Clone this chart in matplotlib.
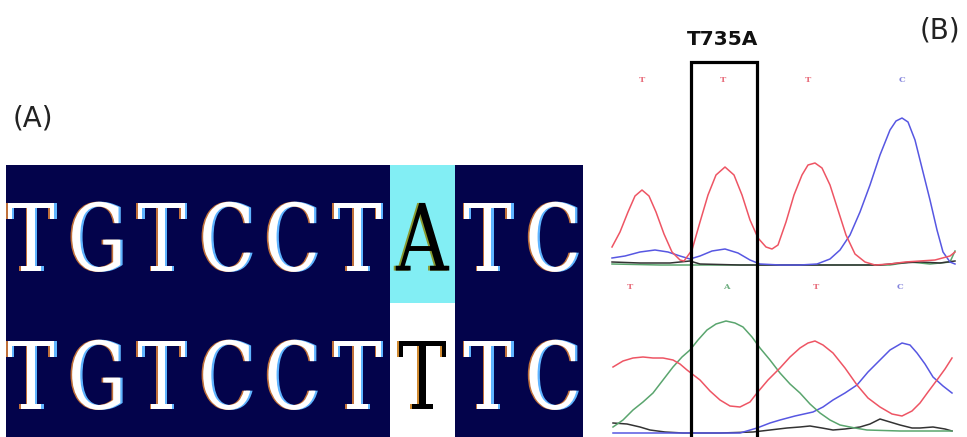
import matplotlib
matplotlib.use("Agg")
import matplotlib.pyplot as plt
from matplotlib.patches import Rectangle, PathPatch
from matplotlib.textpath import TextPath
from matplotlib.font_manager import FontProperties
from matplotlib.transforms import Affine2D

W, H = 967, 437

# (A) aligned sequences, reference on top, sample below
SEQ_TOP = "TGTCCTATC"
SEQ_BOTTOM = "TGTCCTTTC"
MUT_INDEX = 6

# (B) chromatogram: scan position vs. signal
MUT_SCAN = 124
MUT_LABEL = "T735A"

top_calls = ["T", "T", "T", "C"]
top_call_scan = [42, 123, 208, 302]
bot_calls = ["T", "A", "T", "C"]
bot_call_scan = [30, 126, 216, 300]

top_red_x = [12, 20, 28, 35, 42, 49, 56, 64, 72, 80, 84, 92, 100, 108, 116, 125, 134, 142, 150, 158,
             166, 172, 178, 186, 194, 202, 208, 215, 222, 230, 238, 246, 255, 265, 275, 290, 305, 320,
             335, 350, 355]
top_red_y = [18, 33, 53, 69, 75, 69, 53, 31, 13, 5, 4, 15, 43, 70, 90, 98, 90, 70, 45, 27,
             18, 16, 20, 43, 70, 90, 100, 102, 97, 80, 55, 30, 11, 3, 0, 1, 3, 4,
             5, 9, 13]

top_blue_x = [12, 25, 40, 55, 68, 80, 90, 100, 112, 125, 138, 150, 160, 180, 200, 217, 230, 240, 250,
              260, 270, 280, 290, 296, 302, 308, 315, 322, 330, 337, 343, 350, 355]
top_blue_y = [7, 9, 13, 15, 13, 9, 6, 9, 14, 16, 12, 5, 1, 0, 0, 1, 6, 15, 30,
              53, 80, 110, 135, 144, 147, 143, 125, 97, 65, 35, 13, 3, 1]

top_green_x = [12, 60, 120, 200, 290, 310, 330, 350, 355]
top_green_y = [1, 0, 0, 0, 0, 3, 1, 3, 14]

top_black_x = [12, 40, 70, 90, 100, 140, 200, 280, 300, 320, 340, 355]
top_black_y = [3, 2, 2, 4, 1, 0, 0, 0, 2, 3, 2, 4]

bot_red_x = [13, 23, 33, 43, 53, 63, 73, 80, 87, 100, 110, 120, 130, 140, 150, 157, 168, 180, 190,
             200, 208, 215, 223, 233, 245, 257, 268, 280, 292, 302, 312, 320, 328, 337, 345, 352]
bot_red_y = [66, 72, 75, 76, 75, 75, 73, 69, 63, 53, 42, 33, 27, 26, 31, 40, 53, 65, 76,
             85, 90, 92, 88, 80, 65, 48, 35, 26, 19, 17, 22, 30, 41, 53, 64, 75]

bot_green_x = [13, 23, 33, 43, 53, 63, 73, 82, 90, 98, 107, 116, 126, 135, 143, 152, 160, 170, 180,
               190, 200, 210, 220, 230, 240, 255, 267, 300, 352]
bot_green_y = [6, 13, 23, 31, 40, 53, 66, 76, 83, 93, 103, 109, 112, 110, 106, 96, 85, 73, 60,
               49, 40, 29, 20, 13, 8, 5, 3, 2, 2]

bot_blue_x = [13, 100, 140, 157, 170, 180, 195, 213, 223, 233, 245, 257, 268, 280, 290, 302, 310,
              317, 325, 333, 343, 352]
bot_blue_y = [0, 0, 0, 5, 10, 13, 17, 21, 26, 33, 40, 48, 61, 73, 83, 90, 88,
              80, 69, 56, 47, 40]

bot_black_x = [13, 27, 40, 50, 65, 83, 120, 153, 170, 187, 200, 210, 222, 233, 245, 260, 270, 280,
               290, 300, 312, 320, 333, 345, 352]
bot_black_y = [10, 9, 6, 3, 1, 0, 0, 1, 3, 5, 6, 7, 5, 3, 4, 6, 9, 14,
               11, 8, 5, 5, 6, 4, 2]

NAVY = "#03034b"
CYAN = "#82eef4"
C_RED = "#ee5564"
C_BLUE = "#5757e2"
C_GREEN = "#5aa56e"
C_BLACK = "#333333"


def px_axes(fig, x0, y0, x1, y1):
    return fig.add_axes([x0 / W, 1 - y1 / H, (x1 - x0) / W, (y1 - y0) / H])


def bare(ax):
    ax.set_xticks([])
    ax.set_yticks([])
    for s in ax.spines.values():
        s.set_visible(False)


fig = plt.figure(figsize=(W / 100, H / 100), dpi=100)

# ---- (A) alignment block
axA = px_axes(fig, 6, 165, 583, 437)
bare(axA)
axA.set_facecolor(NAVY)
axA.set_xlim(-0.383, 8.46)
axA.set_ylim(1.971, 0)
axA.add_patch(Rectangle((MUT_INDEX - 0.5, 0), 1, 1, facecolor=CYAN, edgecolor="none", zorder=1))
axA.add_patch(Rectangle((MUT_INDEX - 0.5, 1), 1, 1, facecolor="white", edgecolor="none", zorder=1))

fp = FontProperties(family="DejaVu Serif")
ref = TextPath((0, 0), "T", size=1, prop=fp).get_extents()
sx = 0.72 / ref.width
sy = 0.49 / ref.height


def letter(ax, ch, x, y, color, dx=0.0, z=3):
    tp = TextPath((0, 0), ch, size=1, prop=fp)
    e = tp.get_extents()
    tr = Affine2D().translate(-(e.x0 + e.x1) / 2, 0).scale(sx, -sy).translate(x + dx, y + 0.245)
    ax.add_patch(PathPatch(tr.transform_path(tp), facecolor=color, edgecolor="none", zorder=z))


for row, seq in enumerate([SEQ_TOP, SEQ_BOTTOM]):
    for i, ch in enumerate(seq):
        yc = row + 0.52
        if i == MUT_INDEX:
            fringe = "#8a9a30" if row == 0 else "#d08a30"
            letter(axA, ch, i, yc, fringe, dx=-0.03, z=2)
            letter(axA, ch, i, yc, "black", z=3)
        else:
            letter(axA, ch, i, yc, "#5fb4ff", dx=0.035, z=2)
            letter(axA, ch, i, yc, "#c0703a", dx=-0.025, z=2)
            letter(axA, ch, i, yc, "white", z=3)

# ---- (B) chromatograms
axB = px_axes(fig, 600, 275, 967, 437)
axT = px_axes(fig, 600, 55, 967, 270)
for ax in (axT, axB):
    bare(ax)
    ax.set_xlim(0, 367)
    ax.patch.set_visible(False)
axT.set_zorder(3)
axT.set_ylim(-5, 210)
axB.set_ylim(-4, 158)

lw = 1.1
axT.plot(top_green_x, top_green_y, color=C_GREEN, lw=lw)
axT.plot(top_black_x, top_black_y, color=C_BLACK, lw=lw)
axT.plot(top_blue_x, top_blue_y, color=C_BLUE, lw=lw)
axT.plot(top_red_x, top_red_y, color=C_RED, lw=lw)

axB.plot(bot_black_x, bot_black_y, color=C_BLACK, lw=lw)
axB.plot(bot_blue_x, bot_blue_y, color=C_BLUE, lw=lw)
axB.plot(bot_green_x, bot_green_y, color=C_GREEN, lw=lw)
axB.plot(bot_red_x, bot_red_y, color=C_RED, lw=lw)

call_colors = {"T": "#e8707e", "C": "#8484dc", "A": "#6fae80", "G": "#333333"}
for ch, x in zip(top_calls, top_call_scan):
    axT.text(x, 185, ch, ha="center", va="center", fontsize=6, fontweight="bold",
             family="DejaVu Serif", color=call_colors[ch])
for ch, x in zip(bot_calls, bot_call_scan):
    axB.text(x, 146, ch, ha="center", va="center", fontsize=6, fontweight="bold",
             family="DejaVu Serif", color=call_colors[ch])

# box around the mutated base, running down through both traces
half = 33
axT.plot([MUT_SCAN - half, MUT_SCAN - half, MUT_SCAN + half, MUT_SCAN + half],
         [-175, 203, 203, -175], color="black", lw=2.3, clip_on=False, zorder=5,
         solid_joinstyle="miter")
axT.text(MUT_SCAN - 1, 220, MUT_LABEL, ha="center", va="baseline", fontsize=14.5,
         fontweight="bold", color="#111111")

fig.text(33 / W, 1 - 118 / H, "(A)", ha="center", va="center", fontsize=20, color="#222222")
fig.text(940 / W, 1 - 31 / H, "(B)", ha="center", va="center", fontsize=20, color="#222222")

fig.savefig("out.png", dpi=100)
